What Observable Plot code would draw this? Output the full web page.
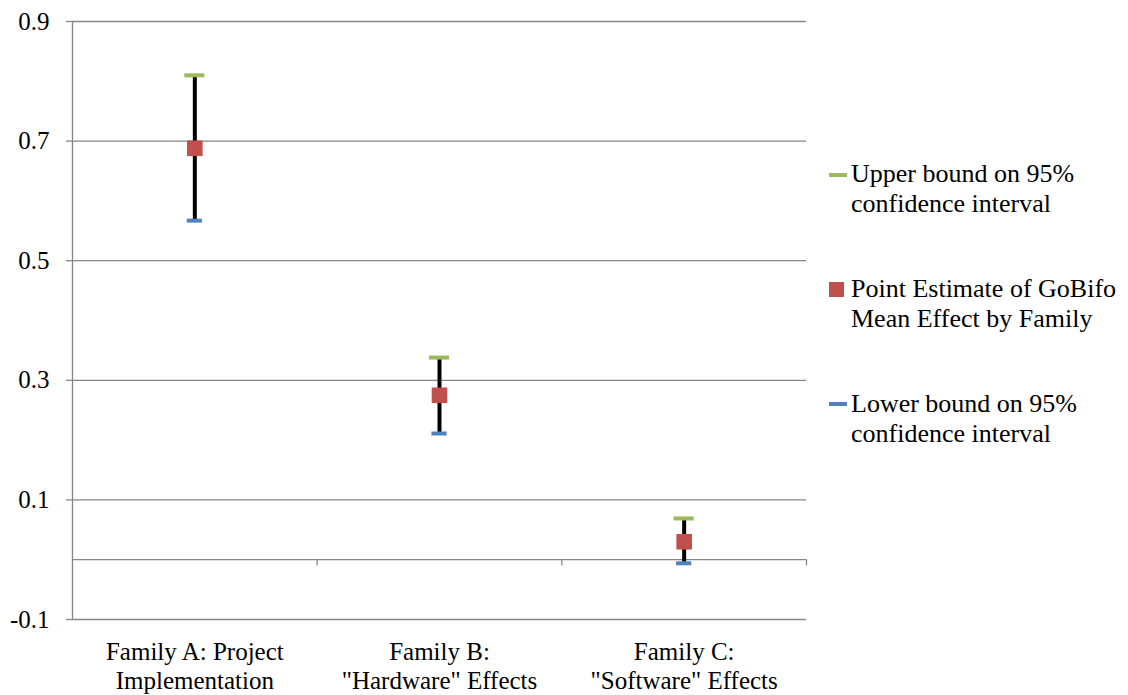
<!DOCTYPE html>
<html>
<head>
<meta charset="utf-8">
<script src="https://cdn.jsdelivr.net/npm/d3@7"></script>
<script src="https://cdn.jsdelivr.net/npm/@observablehq/plot@0.6"></script>
<style>
  html, body { margin: 0; padding: 0; background: #fff; }
  #wrap { position: relative; width: 1128px; height: 695px; font-family: "Liberation Serif", "DejaVu Serif", serif; }
  #wrap svg { position: absolute; left: 0; top: 0; }
  .leg { position: absolute; left: 829px; font-size: 26px; line-height: 30px; color: #000; white-space: nowrap; font-family: "Liberation Serif", "DejaVu Serif", serif; }
  .leg .txt { position: absolute; left: 22px; top: 0; }
  .leg .mk { position: absolute; left: 0; }
</style>
</head>
<body>
<div id="wrap"></div>
<script>
// ---- data ----
const categories = ["Family A: Project\nImplementation", "Family B:\n\"Hardware\" Effects", "Family C:\n\"Software\" Effects"];
const upperBound = [0.810, 0.338, 0.069];
const pointEstimate = [0.688, 0.275, 0.030];
const lowerBound = [0.567, 0.211, -0.006];
const yTicks = [-0.1, 0.1, 0.3, 0.5, 0.7, 0.9];
const yTickLabels = ["-0.1", "0.1", "0.3", "0.5", "0.7", "0.9"];
const seriesNames = ["Upper bound on 95%\nconfidence interval", "Point Estimate of GoBifo\nMean Effect by Family", "Lower bound on 95%\nconfidence interval"];
const seriesColors = ["#9bbb59", "#c0504d", "#4f81bd"];

const data = categories.map((c, i) => ({
  cat: c, xi: i + 0.5, upper: upperBound[i], point: pointEstimate[i], lower: lowerBound[i]
}));
const boundaries = categories.map((c, i) => i + 1);

const grid = "#868686";
const upperHalf = 0.041, lowerHalf = 0.031;
const serif = "Liberation Serif, DejaVu Serif, serif";

const chart = Plot.plot({
  width: 1128, height: 695,
  marginLeft: 72, marginRight: 322, marginTop: 21, marginBottom: 76,
  style: { fontFamily: serif, background: "transparent" },
  x: { type: "linear", domain: [0, categories.length], axis: null },
  y: { domain: [-0.1, 0.9], axis: null },
  marks: [
    Plot.ruleY(yTicks, { stroke: grid, strokeWidth: 1.3 }),
    Plot.ruleY([0], { stroke: grid, strokeWidth: 1.3 }),
    Plot.ruleX([0], { stroke: grid, strokeWidth: 1.3 }),
    Plot.ruleX(boundaries, { y1: 0, y2: -0.01, stroke: grid, strokeWidth: 1.3 }),
    Plot.axisY(yTicks, {
      tickSize: 6, tickPadding: 17, stroke: grid, strokeWidth: 1.3, fill: "#000",
      fontSize: 25, fontFamily: serif, tickFormat: (d) => yTickLabels[yTicks.indexOf(d)]
    }),
    Plot.text(data, {
      x: "xi", y: () => -0.1, text: "cat", lineAnchor: "top", dy: 20,
      fontSize: 25, lineHeight: 1.16, fill: "#000", fontFamily: serif
    }),
    Plot.ruleX(data, { x: "xi", y1: "lower", y2: "upper", stroke: "#000", strokeWidth: 4 }),
    Plot.ruleY(data, { y: "upper", x1: d => d.xi - upperHalf, x2: d => d.xi + upperHalf, stroke: seriesColors[0], strokeWidth: 4 }),
    Plot.ruleY(data, { y: "lower", x1: d => d.xi - lowerHalf, x2: d => d.xi + lowerHalf, stroke: seriesColors[2], strokeWidth: 4 }),
    Plot.dot(data, { x: "xi", y: "point", symbol: "square", r: 8.8, fill: seriesColors[1], stroke: "none" })
  ]
});
const wrap = document.getElementById("wrap");
wrap.appendChild(chart);

// ---- legend ----
const legTops = [159, 274, 389];
const markers = [
  { top: 14, w: 18, h: 4 },
  { top: 8, w: 15, h: 15 },
  { top: 13, w: 18, h: 4 }
];
seriesNames.forEach((name, i) => {
  const d = document.createElement("div");
  d.className = "leg";
  d.style.top = legTops[i] + "px";
  const m = document.createElement("span");
  m.className = "mk";
  m.style.top = markers[i].top + "px";
  m.style.width = markers[i].w + "px";
  m.style.height = markers[i].h + "px";
  m.style.background = seriesColors[i];
  d.appendChild(m);
  const t = document.createElement("div");
  t.className = "txt";
  name.split("\n").forEach(line => {
    const l = document.createElement("div");
    l.textContent = line;
    t.appendChild(l);
  });
  d.appendChild(t);
  wrap.appendChild(d);
});
</script>
</body>
</html>
